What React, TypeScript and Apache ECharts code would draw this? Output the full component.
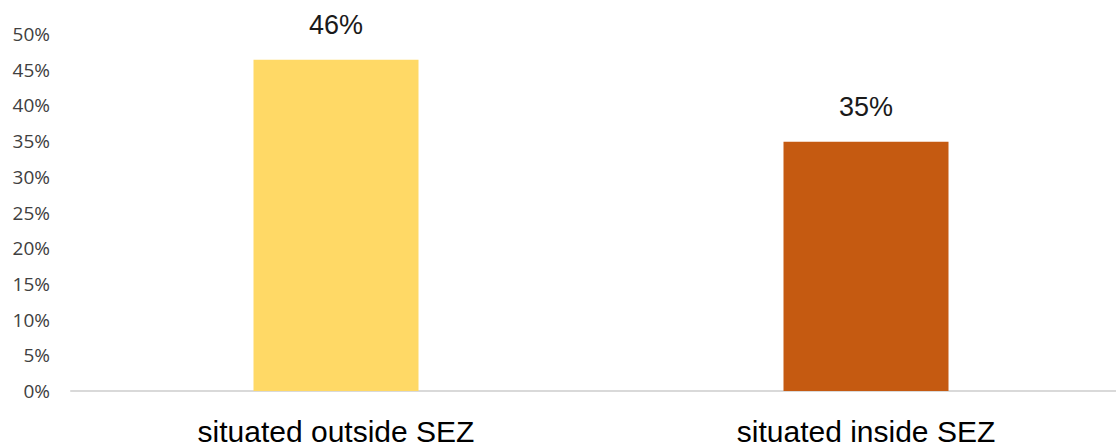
import React, { useEffect, useRef } from "react";
import * as echarts from "echarts";

const categories = ["situated outside SEZ", "situated inside SEZ"];
const values = [46.4, 34.9];
const barColors = ["#FFD966", "#C55A11"];
const yTicks = { min: 0, max: 50, interval: 5 };

export default function App() {
  const ref = useRef<HTMLDivElement>(null);
  useEffect(() => {
    document.body.style.margin = "0";
    document.body.style.overflow = "hidden";
    if (!ref.current) return;
    const chart = echarts.init(ref.current, null, { renderer: "svg" });
    chart.setOption({
      animation: false,
      backgroundColor: "#ffffff",
      grid: {
        left: 71,
        top: 34,
        width: 1060,
        height: 357,
        containLabel: false,
        outerBoundsMode: "none",
      },
      xAxis: {
        type: "category",
        data: categories,
        axisLine: { show: true, lineStyle: { color: "#D9D9D9", width: 2 } },
        axisTick: { show: false },
        axisLabel: {
          color: "#000000",
          fontFamily: "Liberation Sans, Arial, sans-serif",
          fontSize: 30,
          lineHeight: 28,
          margin: 26,
        },
      },
      yAxis: {
        type: "value",
        min: yTicks.min,
        max: yTicks.max,
        interval: yTicks.interval,
        splitLine: { show: false },
        axisLine: { show: false },
        axisTick: { show: false },
        axisLabel: {
          formatter: (v: number) => `${v}%`,
          color: "#404040",
          fontFamily: "Open Sans, sans-serif",
          fontSize: 19,
          margin: 21,
        },
      },
      series: [
        {
          type: "bar",
          barWidth: 165,
          data: values.map((v, i) => ({ value: v, itemStyle: { color: barColors[i] } })),
          label: {
            show: true,
            position: "top",
            distance: 21,
            formatter: (p: any) => `${Math.round(p.value)}%`,
            color: "#1a1a1a",
            fontFamily: "Liberation Sans, Arial, sans-serif",
            fontSize: 27,
          },
        },
      ],
    });
    return () => chart.dispose();
  }, []);
  return (
    <div style={{ width: 1116, height: 446, overflow: "hidden" }}>
      <div ref={ref} style={{ width: 1131, height: 446 }} />
    </div>
  );
}
